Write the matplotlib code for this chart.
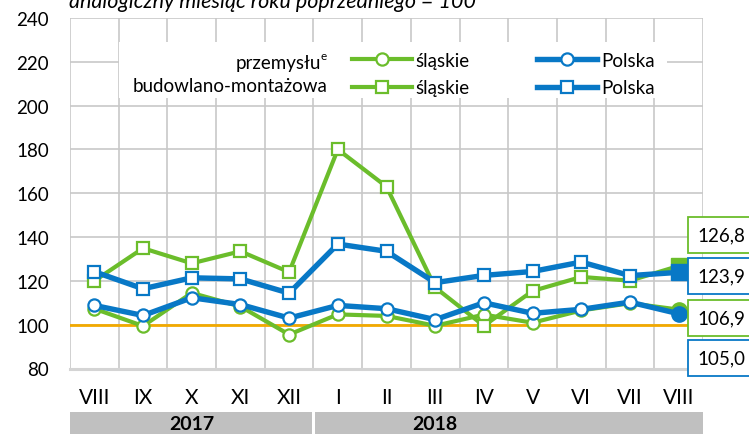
import numpy as np
import matplotlib
matplotlib.use("Agg")
import matplotlib.pyplot as plt
from matplotlib.patches import Rectangle
from matplotlib.ticker import FixedLocator

plt.rcParams['font.family'] = ['Lato', 'DejaVu Sans']

# --- data -------------------------------------------------------------
months = ["VIII", "IX", "X", "XI", "XII", "I", "II", "III", "IV", "V", "VI", "VII", "VIII"]
years = ["2017", "2018"]
year_spans = [(-0.5, 4.47), (4.53, 12.5)]
year_label_x = [2, 7]

przem_slaskie = [107.3, 99.4, 114.5, 108.3, 95.5, 104.7, 104.0, 99.5, 104.6, 100.9, 106.5, 109.8, 106.9]
przem_polska = [108.8, 104.2, 112.3, 109.2, 103.0, 108.8, 107.3, 102.3, 110.0, 105.2, 107.0, 110.3, 105.0]
bud_slaskie = [120.0, 134.9, 128.0, 133.5, 124.0, 180.0, 163.0, 117.0, 99.5, 115.4, 121.8, 120.1, 126.8]
bud_polska = [124.2, 116.4, 121.4, 120.9, 114.4, 136.8, 133.5, 119.2, 122.5, 124.3, 128.6, 122.4, 123.9]

GREEN = '#6bbd2b'
BLUE = '#0878c6'
ORANGE = '#f2a900'
GRID = '#c8c8c8'

W, H = 749, 435
fig = plt.figure(figsize=(W / 100, H / 100), dpi=100)
ax = fig.add_axes([70 / W, 1 - 369.5 / H, (703 - 70) / W, (369.5 - 19) / H])


def px(x, y):
    return x / W, 1 - y / H


x = np.arange(len(months))

series = [
    (przem_slaskie, GREEN, 'o', 3.0),
    (bud_slaskie, GREEN, 's', 3.0),
    (przem_polska, BLUE, 'o', 3.9),
    (bud_polska, BLUE, 's', 3.9),
]
handles = []
for i, (vals, col, mk, lw) in enumerate(series):
    ln, = ax.plot(x, vals, color=col, lw=lw, marker=mk, ms=8.8, mfc='white',
                  mec=col, mew=1.6, zorder=3 + i, solid_joinstyle='miter')
    ax.plot(x[-1:], vals[-1:], ls='none', marker=mk, ms=11, color=col, zorder=3 + i)
    handles.append(ln)

ax.axhline(100, color=ORANGE, lw=2.0, zorder=2.5)

ax.set_xlim(-0.5, 12.5)
ax.set_ylim(80, 240)
ax.set_yticks(np.arange(80, 241, 20))
ax.set_xticks(x)
ax.set_xticklabels(months, fontsize=15)
ax.xaxis.set_minor_locator(FixedLocator(np.arange(-0.5, 12.6, 0.5)))
ax.tick_params(axis='both', which='both', length=0)
ax.tick_params(axis='y', labelsize=13.5, pad=15)
ax.tick_params(axis='x', pad=13)
ax.set_axisbelow(True)
ax.grid(axis='y', color=GRID, lw=1.2)
ax.grid(axis='x', which='minor', color=GRID, lw=1.2)
for s in ['left', 'right', 'top']:
    ax.spines[s].set_visible(False)
ax.spines['bottom'].set_color('#d4d4d4')
ax.spines['bottom'].set_linewidth(2.2)

# year band below the month labels
for (x0, x1), yr, xl in zip(year_spans, years, year_label_x):
    ax.add_patch(Rectangle((x0, -0.25), x1 - x0, 0.127, transform=ax.get_xaxis_transform(),
                           facecolor='#c0c0c0', edgecolor='none', clip_on=False))
    ax.text(xl, -0.158, yr, transform=ax.get_xaxis_transform(), ha='center', va='center',
            fontsize=14, fontweight='bold', clip_on=False)

# legend box
lx0, ly0 = px(119, 99)
lx1, ly1 = px(667, 43)
fig.add_artist(Rectangle((lx0, ly0), lx1 - lx0, ly1 - ly0, transform=fig.transFigure,
                         facecolor='white', edgecolor='none', zorder=1.5))
leg = fig.legend(handles, ['śląskie', 'śląskie', 'Polska', 'Polska'], ncol=2,
                 loc='upper left', bbox_to_anchor=px(352, 53), frameon=False,
                 fontsize=13.5, handlelength=3.2, handletextpad=0.2,
                 columnspacing=3.6, labelspacing=0.55, borderpad=0, borderaxespad=0)
leg.set_zorder(2)
fig.text(*px(321, 63), 'przemysłu', ha='right', va='center', fontsize=13.5, zorder=3)
fig.text(*px(327, 57), 'e', ha='right', va='center', fontsize=8.5, zorder=3)
fig.text(*px(327, 87), 'budowlano-montażowa', ha='right', va='center', fontsize=13.5, zorder=3)

# value boxes at the right
labels = [('126,8', GREEN, 236), ('123,9', BLUE, 277), ('106,9', GREEN, 319), ('105,0', BLUE, 359)]
for txt, col, yy in labels:
    fig.text(*px(697, yy), txt, ha='left', va='center', fontsize=13.5, zorder=5,
             bbox=dict(boxstyle='square,pad=0.5', facecolor='white', edgecolor=col, lw=1.3))

# title (cut at the top edge, as in the source)
fig.text(*px(69, 8), 'analogiczny miesiąc roku poprzedniego = 100', ha='left',
         va='baseline', fontsize=15.5, style='italic')

fig.savefig('out.png', dpi=100)
